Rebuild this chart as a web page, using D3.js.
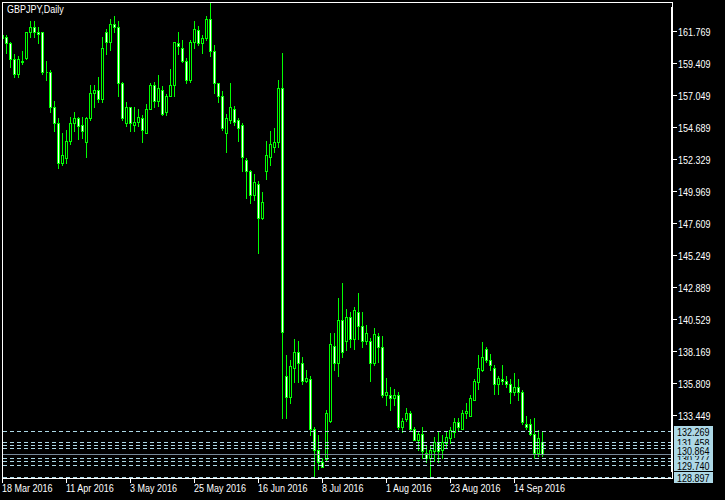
<!DOCTYPE html>
<html><head><meta charset="utf-8">
<script src="https://cdn.jsdelivr.net/npm/d3@7"></script>
<style>html,body{margin:0;padding:0;background:#000;overflow:hidden}</style>
</head><body>
<script>
// ---- data (GBPJPY daily, 18 Mar 2016 – 23 Sep 2016) ----
const openP  = [161.44,161.29,160.85,159.74,158.63,159.45,159.81,161.73,162.03,161.66,161.66,158.71,158.71,156.20,155.02,152.07,152.37,153.62,154.95,155.32,154.80,153.55,155.32,157.16,157.45,156.79,161.73,160.99,162.25,162.03,157.90,154.95,156.13,154.87,155.09,155.32,154.28,156.05,157.82,156.57,157.45,155.76,156.94,157.75,160.85,160.55,159.59,158.12,160.99,161.81,160.92,161.22,162.69,160.33,157.90,156.94,154.21,155.17,156.05,155.17,154.80,152.29,151.41,149.64,150.52,148.01,151.41,152.44,153.25,153.55,157.60,136.29,134.74,136.95,138.06,137.25,135.99,136.14,132.45,130.90,129.95,130.17,132.97,138.57,137.32,140.49,138.94,140.64,139.02,141.08,139.98,138.94,138.94,137.32,139.31,138.50,134.89,134.89,134.67,134.89,132.53,133.19,133.56,132.45,131.64,132.08,130.68,130.31,130.83,131.49,130.90,131.42,131.72,132.16,132.90,132.45,133.56,133.41,134.52,135.85,136.80,138.35,137.54,136.95,135.70,136.07,135.99,135.77,135.18,135.48,135.18,132.75,132.82,132.08,130.61,131.49];
const highP  = [161.51,161.51,160.99,160.04,159.89,160.26,161.73,162.54,162.54,162.03,161.73,159.59,158.86,156.64,155.32,154.21,154.50,155.46,155.76,155.46,155.39,155.39,157.75,157.75,158.41,161.29,161.88,162.69,162.84,162.54,158.04,156.50,156.20,156.20,155.98,155.61,156.42,157.97,158.04,158.49,157.68,157.09,159.00,160.99,161.66,161.07,159.81,161.07,162.54,162.17,161.51,162.91,163.87,160.70,157.97,157.31,155.68,157.97,156.27,155.32,155.02,152.37,151.55,151.19,150.67,149.93,153.62,154.43,154.58,158.19,160.11,137.84,137.47,139.02,138.87,137.69,136.80,136.29,132.53,131.94,130.31,133.85,139.53,139.53,142.11,143.22,141.30,141.01,141.45,142.41,141.08,140.12,139.16,139.90,139.53,139.24,136.21,135.55,135.40,135.18,133.26,134.00,133.71,132.53,132.23,132.53,131.20,131.13,131.79,132.23,132.01,132.16,132.60,133.26,133.26,133.85,134.37,134.89,136.07,137.91,138.80,138.43,137.98,137.17,136.29,137.17,136.29,136.14,136.58,136.14,135.26,133.41,133.19,133.26,132.31,132.23];
const lowP   = [161.14,160.18,159.15,158.41,158.41,159.37,159.74,161.36,161.36,160.92,158.63,158.19,155.76,154.43,151.63,151.85,152.00,153.47,154.43,153.84,153.91,152.44,155.24,156.13,156.50,156.50,160.04,160.40,161.66,157.01,155.17,154.73,154.36,154.43,154.73,153.55,154.28,155.98,156.20,156.27,155.61,155.61,156.94,156.94,160.04,159.45,157.97,158.04,160.48,160.70,160.18,161.14,159.89,157.16,156.50,154.50,152.88,154.95,154.87,153.62,151.41,149.42,149.12,149.27,145.43,147.94,150.82,151.85,152.81,153.25,133.26,133.26,134.30,135.85,135.85,135.70,135.85,131.94,128.84,129.50,129.58,130.02,132.90,136.80,136.29,137.76,138.21,138.50,138.28,139.02,138.43,138.65,135.92,137.17,137.39,134.81,134.15,133.85,134.15,132.45,132.16,132.97,132.31,131.57,130.90,130.31,129.95,128.90,130.02,129.95,130.31,131.05,131.35,131.86,132.31,132.38,133.26,133.34,134.52,135.40,136.73,137.39,136.80,135.03,135.03,135.77,135.55,134.37,134.96,134.59,132.82,132.45,131.94,130.31,130.46,130.39];
const closeP = [161.22,160.85,159.74,158.63,159.67,159.59,161.66,162.10,161.66,161.58,158.71,158.78,156.20,155.02,152.07,152.59,153.62,154.95,155.32,154.73,154.36,155.32,157.23,157.45,156.79,160.55,160.99,162.32,162.03,157.90,155.32,156.13,154.95,155.09,155.39,154.50,156.05,157.82,156.57,157.53,155.68,157.01,157.82,160.99,160.63,159.52,158.12,160.99,161.95,160.92,161.22,162.69,160.26,157.90,156.94,154.58,155.32,156.13,155.09,154.65,152.44,151.48,149.64,150.60,148.01,149.19,152.59,153.47,153.55,157.60,139.56,134.81,137.03,138.06,137.32,135.92,136.21,132.45,130.90,129.95,129.65,133.56,138.65,137.32,140.49,138.06,140.71,139.09,141.16,139.98,138.94,139.46,137.32,139.39,138.50,134.89,135.18,134.67,134.89,132.53,132.97,133.63,132.38,131.64,132.08,130.83,130.31,130.90,131.49,130.83,131.49,131.79,132.31,132.90,132.53,133.56,133.78,134.67,135.92,136.95,137.76,137.54,137.10,135.70,136.21,135.92,135.77,135.18,135.48,135.18,132.90,132.60,132.08,130.68,131.72,130.57];
const dateTickBars   = [0,16,32,48,64,80,96,112,128];
const dateTickLabels = ["18 Mar 2016","11 Apr 2016","3 May 2016","25 May 2016","16 Jun 2016","8 Jul 2016","1 Aug 2016","23 Aug 2016","14 Sep 2016"];
const priceTicks = [161.769,159.409,157.049,154.689,152.329,149.969,147.609,145.249,142.889,140.529,138.169,135.809,133.449];
const levelPrices = [132.269,131.46,131.24,131.02,130.28,130.06,129.740,128.897];
const hiddenLabels  = [["131.458",131.46],["130.277",130.28]];
const visibleLabels = [["132.269",132.269],["130.864",130.864],["129.740",129.740],["128.897",128.897]];
const bidPrice = 130.57;
const title = "GBPJPY,Daily";

// ---- drawing ----
const W = 725, H = 500;
const svg = d3.select("body").append("svg").attr("width", W).attr("height", H)
  .style("display","block").style("shape-rendering","crispEdges");
svg.append("rect").attr("width", W).attr("height", H).attr("fill", "#000");

const y = d3.scaleLinear().domain([133.449, 161.769]).range([415.5, 31.5]);
const x = d3.scaleLinear().domain([0, 1]).range([2, 6]);
const row = v => Math.floor(y(v));
const FONT = "'Liberation Sans', Arial, sans-serif";

svg.append("clipPath").attr("id","plot").append("rect").attr("x",3).attr("y",3).attr("width",668).attr("height",475);
const plot = svg.append("g").attr("clip-path","url(#plot)");

const idx = d3.range(openP.length);
const LIME = "#00ff00";
// wicks
plot.selectAll("line.wick").data(idx).join("line")
  .attr("x1", i => x(i) + 0.5).attr("x2", i => x(i) + 0.5)
  .attr("y1", i => row(highP[i])).attr("y2", i => row(lowP[i]) + 1)
  .attr("stroke", LIME).attr("stroke-width", 1);
// bodies
plot.selectAll("path.body").data(idx).join("path")
  .attr("d", i => {
    const t = row(Math.max(openP[i], closeP[i])), b = row(Math.min(openP[i], closeP[i]));
    const cx = x(i);
    return `M${cx-0.5},${t+0.5}h2v${b-t}h-2Z`;
  })
  .attr("fill", i => closeP[i] >= openP[i] ? "#000" : "#fff")
  .attr("stroke", LIME).attr("stroke-width", 1);

// horizontal levels
const lv = svg.append("g");
lv.selectAll("line").data(levelPrices).join("line")
  .attr("x1", 3).attr("x2", 671)
  .attr("y1", d => row(d) + 0.5).attr("y2", d => row(d) + 0.5)
  .attr("stroke", "#add8e6").attr("stroke-dasharray", "4,3");
lv.append("line").attr("x1",3).attr("x2",671)
  .attr("y1", row(bidPrice)+0.5).attr("y2", row(bidPrice)+0.5)
  .attr("stroke", "#778899");

// frame
const fr = svg.append("g").attr("stroke","#fff").attr("stroke-width",1);
fr.append("line").attr("x1",2).attr("x2",673).attr("y1",2.5).attr("y2",2.5);
fr.append("line").attr("x1",2.5).attr("x2",2.5).attr("y1",2).attr("y2",479);
fr.append("line").attr("x1",2).attr("x2",673).attr("y1",478.5).attr("y2",478.5);
fr.append("line").attr("x1",672.5).attr("x2",672.5).attr("y1",2).attr("y2",479);
fr.append("line").attr("x1",671.5).attr("x2",671.5).attr("y1",7).attr("y2",472);

// price axis
const pa = svg.append("g");
pa.selectAll("line").data(priceTicks).join("line")
  .attr("x1",673).attr("x2",677).attr("y1", d => row(d)+0.5).attr("y2", d => row(d)+0.5)
  .attr("stroke","#fff");
pa.selectAll("text").data(priceTicks).join("text")
  .attr("transform", d => `translate(678,${row(d)+4.5}) scale(0.9,1)`)
  .attr("fill","#fff").attr("font-family",FONT).attr("font-size","10px")
  .text(d => d3.format(".3f")(d));

// date axis
const da = svg.append("g");
da.selectAll("line").data(dateTickBars).join("line")
  .attr("x1", d => x(d)+0.5).attr("x2", d => x(d)+0.5).attr("y1",479).attr("y2",483)
  .attr("stroke","#fff");
da.selectAll("text").data(dateTickLabels).join("text")
  .attr("transform", (d,k) => `translate(${x(dateTickBars[k])},492) scale(0.9,1)`)
  .attr("fill","#fff").attr("font-family",FONT).attr("font-size","10px")
  .text(d => d);

// level price labels
function drawLabels(list) {
  const g = svg.append("g");
  list.forEach(([txt, p]) => {
    const r = row(p);
    g.append("rect").attr("x",674).attr("y",r-5).attr("width",39).attr("height",11).attr("fill","#add8e6");
    g.append("text").attr("transform",`translate(677,${r+4.5}) scale(0.9,1)`)
      .attr("fill","#000").attr("font-family",FONT).attr("font-size","10px").text(txt);
  });
}
drawLabels(hiddenLabels);
drawLabels(visibleLabels);

// title
svg.append("text").attr("transform","translate(7,13) scale(0.9,1)")
  .attr("fill","#fff").attr("font-family",FONT).attr("font-size","10px").text(title);
</script>
</body></html>
